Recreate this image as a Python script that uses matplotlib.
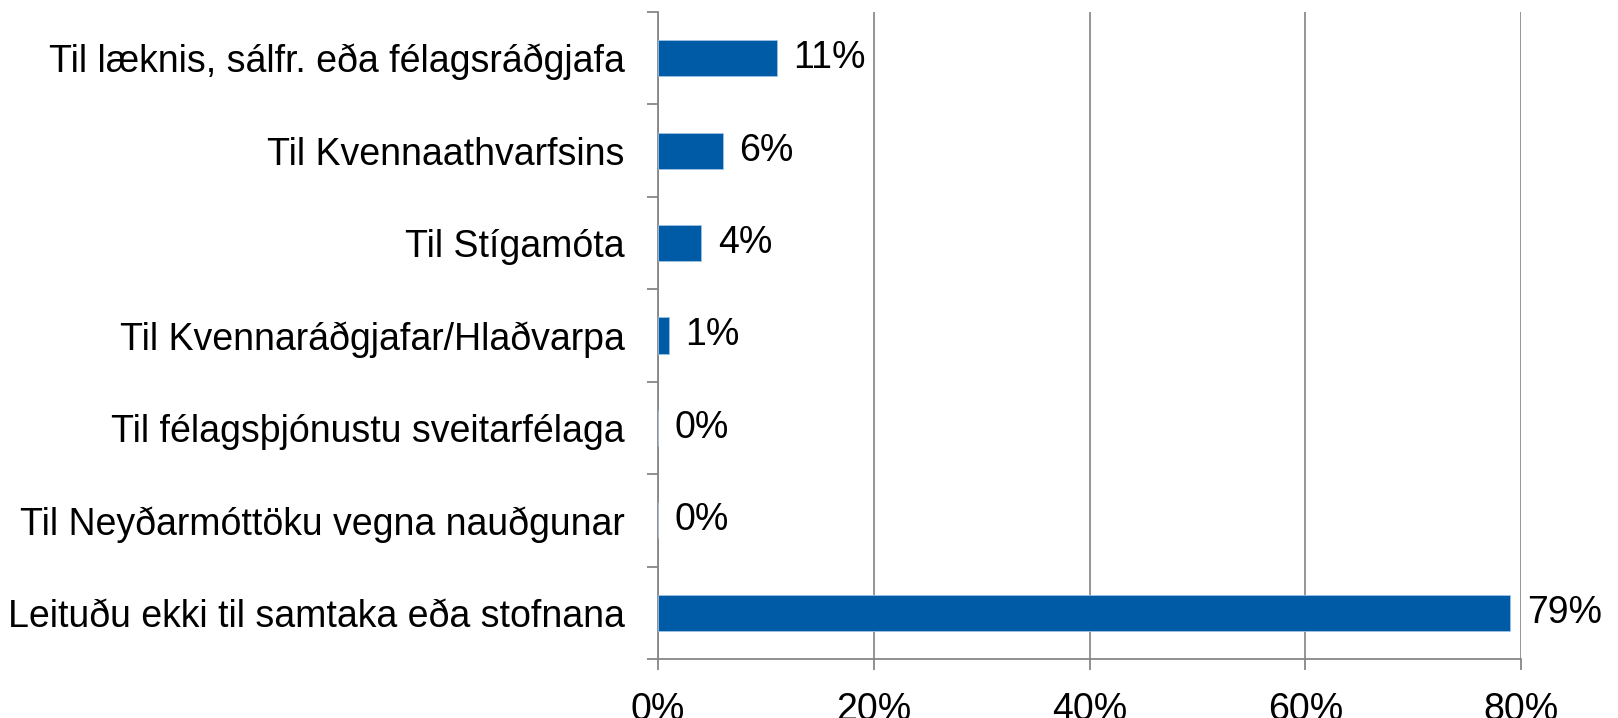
import matplotlib
matplotlib.use("Agg")
import matplotlib.pyplot as plt
from matplotlib.ticker import FixedLocator, PercentFormatter

categories = [
    "Til læknis, sálfr. eða félagsráðgjafa",
    "Til Kvennaathvarfsins",
    "Til Stígamóta",
    "Til Kvennaráðgjafar/Hlaðvarpa",
    "Til félagsþjónustu sveitarfélaga",
    "Til Neyðarmóttöku vegna nauðgunar",
    "Leituðu ekki til samtaka eða stofnana",
]
values = [11, 6, 4, 1, 0, 0, 79]
x_ticks = [0, 20, 40, 60, 80]

plt.rcParams['font.family'] = ['Liberation Sans', 'DejaVu Sans']

fig = plt.figure(figsize=(16.18, 7.18), dpi=100)
ax = fig.add_axes([0.4067, 0.0822, 0.5334, 0.9011])

n = len(categories)
ypos = list(range(n))
ax.barh(ypos, values, height=0.39, color="#005BA6", edgecolor="#9DC3E6", linewidth=0.6, zorder=3)
ax.set_ylim(n - 0.5, -0.5)
ax.set_xlim(0, 80)

for y, v in zip(ypos, values):
    ax.annotate(f"{v}%", xy=(v, y), xytext=(12, 0), textcoords="offset points",
                va="center", ha="left", fontsize=27, color="black")

ax.set_yticks(ypos)
ax.set_yticklabels(categories, fontsize=27)
ax.yaxis.set_minor_locator(FixedLocator([i - 0.5 for i in range(n + 1)]))
ax.tick_params(axis="y", which="major", length=0, pad=24)
ax.tick_params(axis="y", which="minor", length=8, width=1.3, color="#878787")

ax.set_xticks(x_ticks)
ax.xaxis.set_major_formatter(PercentFormatter(decimals=0))
ax.tick_params(axis="x", which="major", length=8, width=1.3, color="#878787", labelsize=27, pad=16)

ax.grid(axis="x", color="#8c8c8c", linewidth=1.3, zorder=0)
for s in ["top", "right"]:
    ax.spines[s].set_visible(False)
for s in ["left", "bottom"]:
    ax.spines[s].set_color("#878787")
    ax.spines[s].set_linewidth(1.3)

fig.savefig("out.png", dpi=100)
